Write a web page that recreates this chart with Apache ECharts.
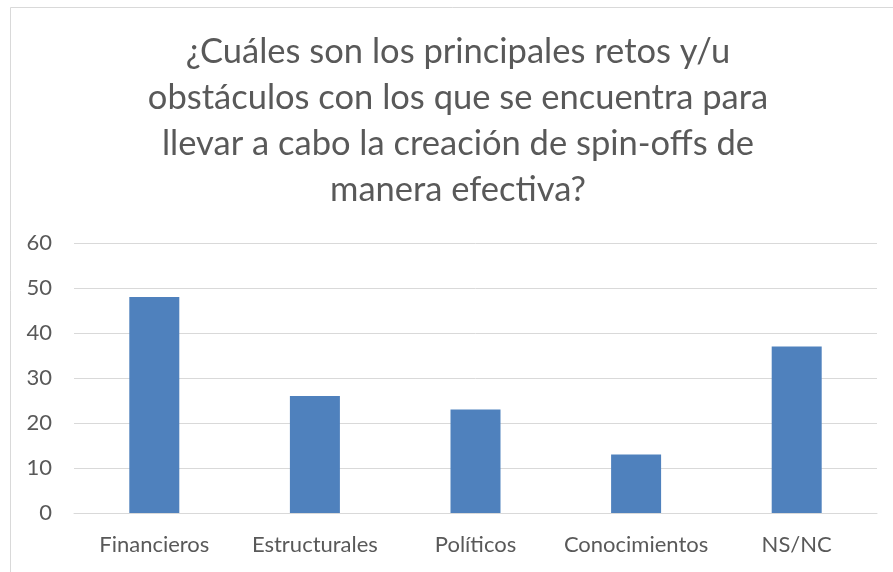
<!DOCTYPE html>
<html>
<head>
<meta charset="utf-8">
<script src="https://cdn.jsdelivr.net/npm/echarts@6/dist/echarts.min.js"></script>
<style>html,body{margin:0;padding:0;background:#fff;}#c{width:893px;height:572px;}</style>
</head>
<body>
<div id="c"></div>
<script>
const titleText = '¿Cuáles son los principales retos y/u\nobstáculos con los que se encuentra para\nllevar a cabo la creación de spin-offs de\nmanera efectiva?';
const categories = ['Financieros', 'Estructurales', 'Políticos', 'Conocimientos', 'NS/NC'];
const values = [48, 26, 23, 13, 37];
const yTicks = { min: 0, max: 60, interval: 10 };

const FONT = 'Lato';
const chart = echarts.init(document.getElementById('c'), null, { renderer: 'canvas' });
chart.setOption({
  animation: false,
  backgroundColor: '#fff',
  title: {
    text: titleText,
    left: 453,
    top: 24,
    textAlign: 'center',
    textStyle: { fontFamily: FONT, fontSize: 34.5, fontWeight: 'normal', color: '#595959', lineHeight: 46 }
  },
  graphic: [{
    type: 'rect', silent: true,
    shape: { x: 10.5, y: 7.5, width: 900, height: 600 },
    style: { fill: 'none', stroke: '#d9d9d9', lineWidth: 1 }
  }],
  grid: { left: 74, right: 16, top: 243, bottom: 59, containLabel: false },
  xAxis: {
    type: 'category', data: categories,
    axisLine: { show: true, lineStyle: { color: '#d9d9d9', width: 1 } },
    axisTick: { show: false },
    axisLabel: { interval: 0, fontFamily: FONT, fontSize: 22, color: '#595959', margin: 21 }
  },
  yAxis: {
    type: 'value', min: yTicks.min, max: yTicks.max, interval: yTicks.interval,
    axisLine: { show: false }, axisTick: { show: false },
    splitLine: { lineStyle: { color: '#d9d9d9', width: 1 } },
    axisLabel: { fontFamily: FONT, fontSize: 22, color: '#595959', margin: 22 }
  },
  series: [{
    type: 'bar', data: values, barWidth: 50,
    itemStyle: { color: '#4f81bd' }
  }]
});
</script>
</body>
</html>
